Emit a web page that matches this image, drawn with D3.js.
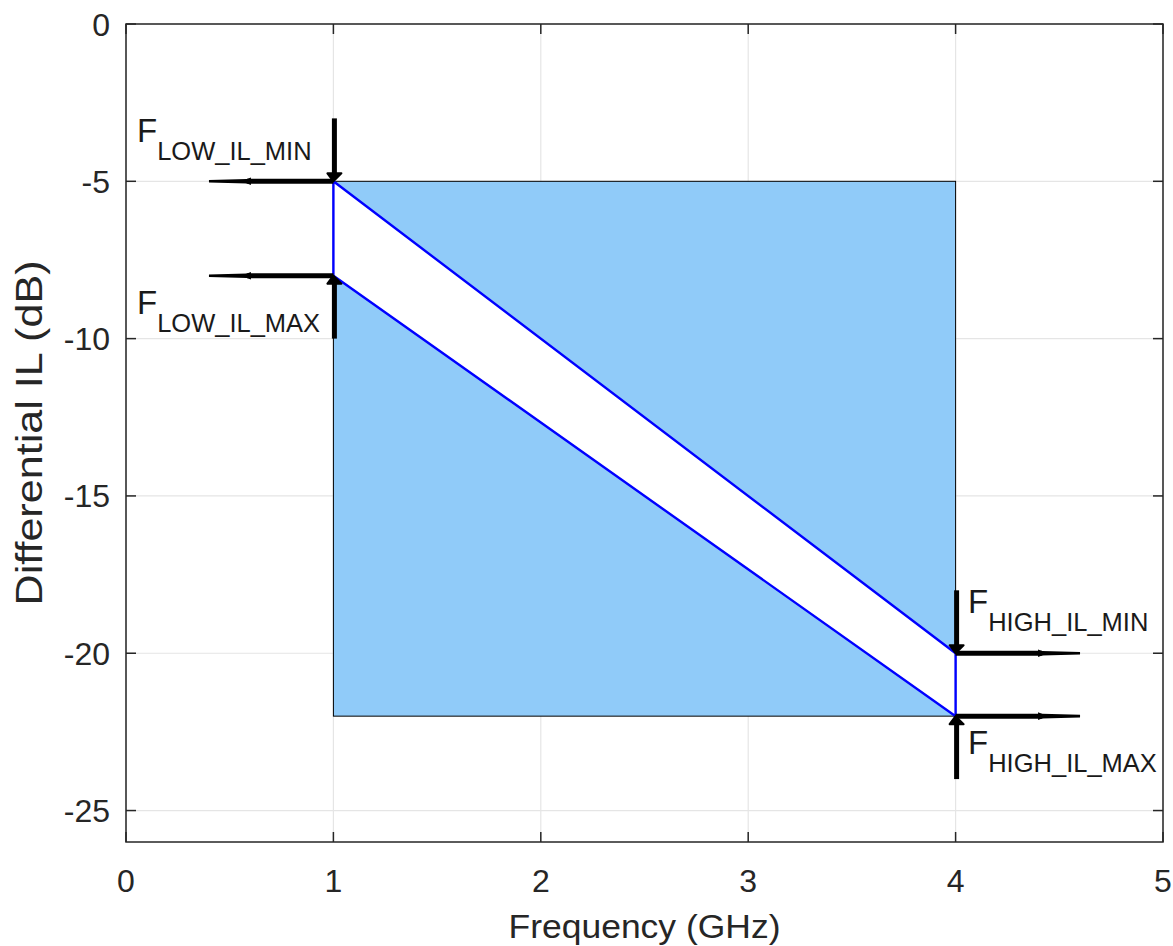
<!DOCTYPE html>
<html>
<head>
<meta charset="utf-8">
<script src="https://cdn.jsdelivr.net/npm/d3@7"></script>
<style>
  body { margin: 0; background: #fff; }
  svg { display: block; font-family: "Liberation Sans", Arial, Helvetica, sans-serif; }
</style>
</head>
<body>
<svg id="chart" width="1173" height="946"></svg>
<script>
// ---- data ----
const xTicks = [0, 1, 2, 3, 4, 5];
const yTicks = [0, -5, -10, -15, -20, -25];
const xTickLabels = ["0", "1", "2", "3", "4", "5"];
const yTickLabels = ["0", "-5", "-10", "-15", "-20", "-25"];
const xDomain = [0, 5];
const yDomain = [-26, 0];

// shaded mask rectangle (frequency range, IL range)
const maskFreq = [1, 4];
const maskIL = [-22, -5];

// limit lines (frequency GHz, IL dB)
const minLimitFreq = [1, 4];
const minLimitIL = [-5, -20];
const maxLimitFreq = [1, 4];
const maxLimitIL = [-8, -22];

// annotation arrows: [fromFreq, fromIL, toFreq, toIL]
const vArrows = [
  [1, -3, 1, -5],
  [1, -10, 1, -8],
  [4, -18, 4, -20],
  [4, -24, 4, -22]
];
const hArrows = [
  [0.4, -5, 1, -5],
  [0.4, -8, 1, -8],
  [4.6, -20, 4, -20],
  [4.6, -22, 4, -22]
];

// labels: main, subscript, freq, IL (baseline of main letter)
const labelMain = ["F", "F", "F", "F"];
const labelSub = ["LOW_IL_MIN", "LOW_IL_MAX", "HIGH_IL_MIN", "HIGH_IL_MAX"];
const labelFreq = [0.053, 0.053, 4.06, 4.06];
const labelIL = [-3.75, -9.22, -18.72, -23.2];

const xLabel = "Frequency (GHz)";
const yLabel = "Differential IL (dB)";

// ---- layout ----
const svg = d3.select("#chart");
const L = 126, R = 1163, T = 24, B = 842;
const x = d3.scaleLinear().domain(xDomain).range([L, R]);
const y = d3.scaleLinear().domain(yDomain).range([B, T]);
const axisColor = "#262626";

// grid
const g = svg.append("g");
g.selectAll(".gx").data(xTicks).join("line")
  .attr("x1", d => x(d)).attr("x2", d => x(d)).attr("y1", T).attr("y2", B)
  .attr("stroke", "#e5e5e5").attr("stroke-width", 1.2);
g.selectAll(".gy").data(yTicks).join("line")
  .attr("y1", d => y(d)).attr("y2", d => y(d)).attr("x1", L).attr("x2", R)
  .attr("stroke", "#e5e5e5").attr("stroke-width", 1.2);

// mask rectangle
svg.append("rect")
  .attr("x", x(maskFreq[0])).attr("y", y(maskIL[1]))
  .attr("width", x(maskFreq[1]) - x(maskFreq[0]))
  .attr("height", y(maskIL[0]) - y(maskIL[1]))
  .attr("fill", "#90cbf9").attr("stroke", "#000").attr("stroke-width", 1);

// white band between limit lines
const band = [
  [minLimitFreq[0], minLimitIL[0]], [minLimitFreq[1], minLimitIL[1]],
  [maxLimitFreq[1], maxLimitIL[1]], [maxLimitFreq[0], maxLimitIL[0]]
];
svg.append("path")
  .attr("d", d3.line().x(d => x(d[0])).y(d => y(d[1]))(band) + "Z")
  .attr("fill", "#fff").attr("stroke", "#0000ff").attr("stroke-width", 2.4)
  .attr("stroke-linejoin", "round");

// arrows
const arrowG = svg.append("g");
vArrows.forEach(a => {
  const x0 = x(a[0]), y0 = y(a[1]), y1 = y(a[3]);
  const dir = Math.sign(y1 - y0);
  const headLen = 8, headW = 6;
  arrowG.append("line")
    .attr("x1", x0 + 1).attr("x2", x0 + 1).attr("y1", y0).attr("y2", y1 - dir * 5)
    .attr("stroke", "#000").attr("stroke-width", 5);
  arrowG.append("path")
    .attr("d", `M${x0},${y1} L${x0 - headW},${y1 - dir * headLen} L${x0 + headW + 2},${y1 - dir * headLen} Z`)
    .attr("fill", "#000").attr("stroke", "#000").attr("stroke-width", 2).attr("stroke-linejoin", "round");
});
hArrows.forEach(a => {
  const x0 = x(a[0]), x1 = x(a[2]), yy = y(a[1]);
  const dir = Math.sign(x1 - x0);
  const bump = x0 + dir * 38;
  arrowG.append("path")
    .attr("d", `M${x0},${yy - 1.3} L${bump},${yy - 2.3} L${bump},${yy + 2.3} L${x0},${yy + 1.3} Z`)
    .attr("fill", "#000");
  arrowG.append("line")
    .attr("x1", bump).attr("x2", x1).attr("y1", yy).attr("y2", yy)
    .attr("stroke", "#000").attr("stroke-width", 5);
  arrowG.append("path")
    .attr("d", `M${bump - dir * 6},${yy} L${bump + dir * 4},${yy - 3.8} L${bump + dir * 4},${yy + 3.8} Z`)
    .attr("fill", "#000");
});

// labels
const lab = svg.append("g").attr("fill", "#1a1a1a");
labelMain.forEach((m, i) => {
  const t = lab.append("text")
    .attr("x", x(labelFreq[i])).attr("y", y(labelIL[i]))
    .attr("font-size", 33);
  t.append("tspan").text(m);
  t.append("tspan").attr("font-size", 25.5).attr("dy", 18).text(labelSub[i]);
});

// axes box
svg.append("rect").attr("x", L).attr("y", T).attr("width", R - L).attr("height", B - T)
  .attr("fill", "none").attr("stroke", axisColor).attr("stroke-width", 1.5);

// ticks (inward, all four sides)
const tl = 10;
const tk = svg.append("g").attr("stroke", axisColor).attr("stroke-width", 1.5);
xTicks.forEach(d => {
  tk.append("line").attr("x1", x(d)).attr("x2", x(d)).attr("y1", B).attr("y2", B - tl);
  tk.append("line").attr("x1", x(d)).attr("x2", x(d)).attr("y1", T).attr("y2", T + tl);
});
yTicks.forEach(d => {
  tk.append("line").attr("y1", y(d)).attr("y2", y(d)).attr("x1", L).attr("x2", L + tl);
  tk.append("line").attr("y1", y(d)).attr("y2", y(d)).attr("x1", R).attr("x2", R - tl);
});

// tick labels
const tlab = svg.append("g").attr("fill", "#262626").attr("font-size", 32);
tlab.selectAll(".xt").data(xTicks).join("text")
  .attr("x", d => x(d)).attr("y", B + 50).attr("text-anchor", "middle").text((d, i) => xTickLabels[i]);
tlab.selectAll(".yt").data(yTicks).join("text")
  .attr("x", L - 16).attr("y", d => y(d) + 11.5).attr("text-anchor", "end").text((d, i) => yTickLabels[i]);

// axis labels
svg.append("text").attr("x", (L + R) / 2).attr("y", 938).attr("text-anchor", "middle")
  .attr("font-size", 34).attr("fill", "#262626")
  .attr("textLength", 272).attr("lengthAdjust", "spacingAndGlyphs").text(xLabel);
svg.append("text").attr("transform", `translate(42,${(T + B) / 2}) rotate(-90)`)
  .attr("text-anchor", "middle").attr("font-size", 37).attr("fill", "#262626")
  .attr("textLength", 345).attr("lengthAdjust", "spacingAndGlyphs").text(yLabel);
</script>
</body>
</html>
